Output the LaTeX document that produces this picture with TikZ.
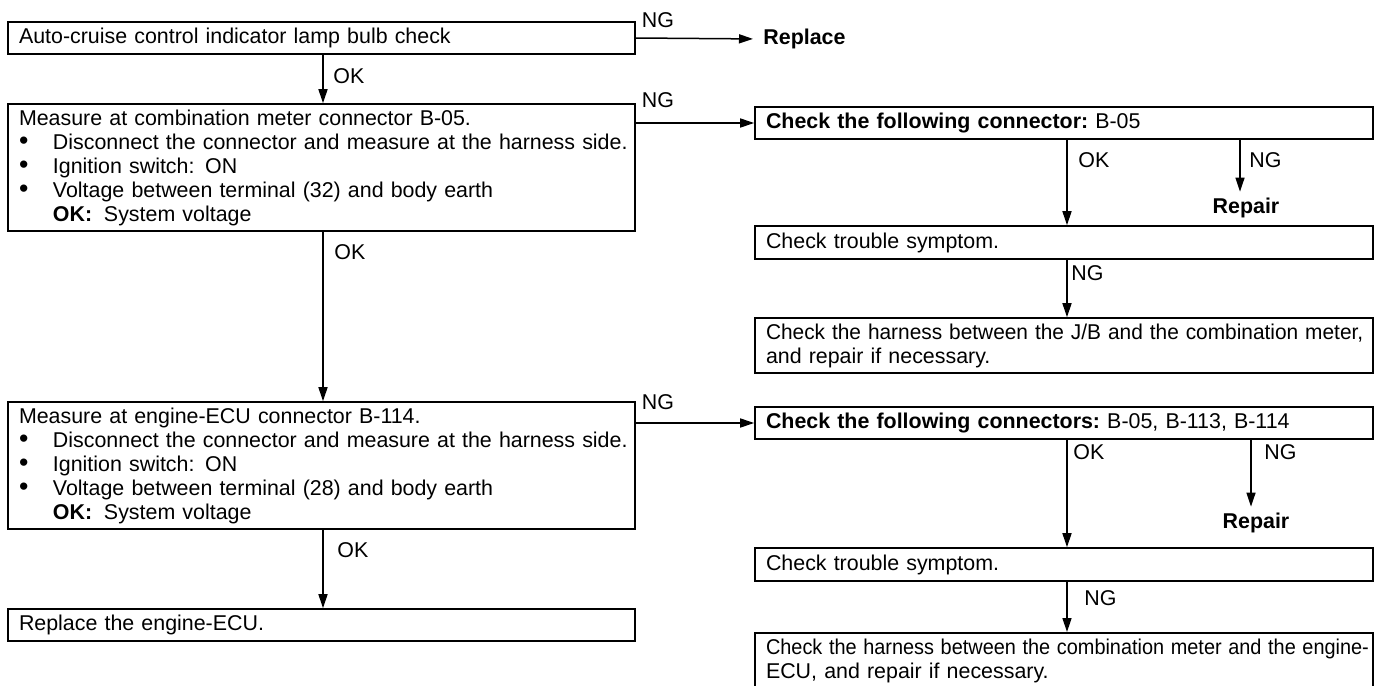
\documentclass[tikz,border=0pt]{standalone}
\usepackage{graphicx}
\usepackage{fontspec}
\setmainfont{Liberation Sans}
\usetikzlibrary{arrows.meta}
\newcommand\bul{\smash{\raisebox{-0.3pt}{\scalebox{1.25}{•}}}}
\newcommand\itm{\makebox[17pt][l]{\bul}}
\newcommand\okind{\makebox[17pt][l]{}}
\begin{document}
\begin{tikzpicture}[x=0.5pt,y=-0.5pt,
  every node/.style={font=\fontsize{10.7}{12}\selectfont},
  boxL/.style={draw, line width=0.8pt, rectangle, inner xsep=5.5pt, inner ysep=0pt, text width=302.5pt, align=left},
  boxR/.style={boxL, text width=298pt},
  arr/.style={line width=0.75pt, -{Triangle[length=7pt,width=4.5pt]}},
  lbl/.style={inner sep=0pt},
  boldlbl/.style={inner sep=0pt, font=\fontsize{10.7}{12}\selectfont\bfseries}]
\useasboundingbox (0,0) rectangle (1383,686);
\coordinate (cL) at (323,0);
\coordinate (cR) at (1067,0);
\coordinate (cN1) at (1240,0);
\coordinate (cN2) at (1251,0);
% left column
\node[boxL, minimum height=16pt] (b1) at (321.5,38) {Auto-cruise control indicator lamp bulb check};
\node[boxL, minimum height=63.5pt] (b2) at (321.5,167.5) {Measure at combination meter connector B-05.\\
\itm\mbox{Disconnect the connector and measure at the harness side.}\\
\itm Ignition switch: ON\\
\itm Voltage between terminal (32) and body earth\\
\okind\textbf{OK:}\hspace{0.55em}System voltage};
\node[boxL, minimum height=63.5pt] (b6) at (321.5,465.5) {Measure at engine-ECU connector B-114.\\
\itm\mbox{Disconnect the connector and measure at the harness side.}\\
\itm Ignition switch: ON\\
\itm Voltage between terminal (28) and body earth\\
\okind\textbf{OK:}\hspace{0.55em}System voltage};
\node[boxL, minimum height=16pt] (b10) at (321.5,625) {Replace the engine-ECU.};
% right column
\node[boxR, minimum height=16pt] (b3) at (1064,123) {\textbf{Check the following connector:}\ B-05};
\node[boxR, minimum height=16.5pt] (b4) at (1064,242.5) {Check trouble symptom.};
\node[boxR, minimum height=27.5pt] (b5) at (1064,345.5) {\mbox{\scalebox{0.975}[1]{Check the harness between the J/B and the combination meter,}}\\
and repair if necessary.};
\node[boxR, minimum height=16pt] (b7) at (1064,423) {\textbf{Check the following connectors:}\ B-05, B-113, B-114};
\node[boxR, minimum height=16.5pt] (b8) at (1064,564.5) {Check trouble symptom.};
\node[boxR, anchor=north, inner ysep=3pt] (b9) at (1064,632) {\mbox{\scalebox{0.93}[1]{Check the harness between the combination meter and the engine-}}\\
ECU, and repair if necessary.};
% end texts
\node[boldlbl, anchor=west] (rep1) at (763,39) {Replace};
\node[boldlbl] (rp1) at (1246,208) {Repair};
\node[boldlbl] (rp2) at (1256,523) {Repair};
% labels
\node[lbl] (ng1) at (658,20) {NG};
\node[lbl] (ng2) at (658,100) {NG};
\node[lbl] (ng3) at (658,402) {NG};
\node[lbl, anchor=west] (ok1) at (333,76) {OK};
\node[lbl, anchor=west] (ok2) at (334,252) {OK};
\node[lbl, anchor=west] (ok3) at (337,550) {OK};
\node[lbl, anchor=west] (ok4) at (1078,160) {OK};
\node[lbl, anchor=west] (ng4) at (1249,160) {NG};
\node[lbl, anchor=west] (ng5) at (1071,273) {NG};
\node[lbl, anchor=west] (ok5) at (1073,452) {OK};
\node[lbl, anchor=west] (ng6) at (1264,452) {NG};
\node[lbl, anchor=west] (ng7) at (1084,598) {NG};
% connectors
\draw[arr, shorten >=5pt] (b1.east) -- (rep1.west);
\draw[arr] (b1.south -| cL) -- (b2.north -| cL);
\draw[arr] (b2.east |- b3.west) -- (b3.west);
\draw[arr] (b2.south -| cL) -- (b6.north -| cL);
\draw[arr] (b6.east |- b7.west) -- (b7.west);
\draw[arr] (b6.south -| cL) -- (b10.north -| cL);
\draw[arr] (b3.south -| cR) -- (b4.north -| cR);
\draw[arr, shorten >=3pt] (b3.south -| cN1) -- (rp1.north -| cN1);
\draw[arr] (b4.south -| cR) -- (b5.north -| cR);
\draw[arr] (b7.south -| cR) -- (b8.north -| cR);
\draw[arr, shorten >=3pt] (b7.south -| cN2) -- (rp2.north -| cN2);
\draw[arr] (b8.south -| cR) -- (b9.north -| cR);
\end{tikzpicture}
\end{document}
